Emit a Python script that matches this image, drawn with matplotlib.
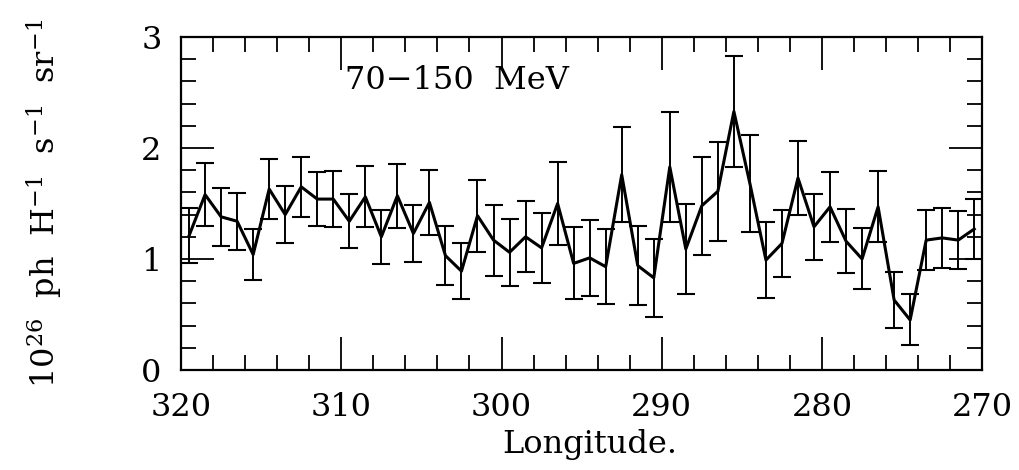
import numpy as np
import matplotlib
matplotlib.use("Agg")
import matplotlib.pyplot as plt

# longitude bins (deg), 1 deg wide
lon = np.arange(319.5, 270, -1.0)

# intensity, 70-150 MeV (10^26 ph H^-1 s^-1 sr^-1)
flux = [1.21, 1.58, 1.38, 1.34, 1.04, 1.63, 1.40, 1.65, 1.54, 1.54,
        1.34, 1.56, 1.20, 1.57, 1.23, 1.51, 1.03, 0.89, 1.39, 1.17,
        1.06, 1.20, 1.10, 1.50, 0.96, 1.01, 0.93, 1.76, 0.94, 0.83,
        1.83, 1.09, 1.48, 1.61, 2.33, 1.68, 0.99, 1.14, 1.73, 1.29,
        1.47, 1.16, 1.00, 1.47, 0.63, 0.45, 1.17, 1.19, 1.17, 1.27]
err = [0.25, 0.285, 0.26, 0.255, 0.23, 0.27, 0.255, 0.27, 0.245, 0.255,
       0.245, 0.275, 0.245, 0.29, 0.26, 0.295, 0.265, 0.25, 0.325, 0.32,
       0.30, 0.32, 0.315, 0.375, 0.325, 0.34, 0.34, 0.43, 0.355, 0.35,
       0.495, 0.405, 0.44, 0.445, 0.50, 0.44, 0.34, 0.30, 0.33, 0.295,
       0.315, 0.29, 0.275, 0.32, 0.25, 0.23, 0.27, 0.27, 0.26, 0.27]

plt.rcParams['font.family'] = 'DejaVu Serif'
plt.rcParams['mathtext.fontset'] = 'dejavuserif'

fig = plt.figure(figsize=(10.2, 4.7), dpi=100)
ax = fig.add_axes([0.1775, 0.213, 0.7855, 0.708])

ax.errorbar(lon, flux, yerr=err, color='black', lw=2.2, elinewidth=1.4,
            capsize=6.5, capthick=1.5)

ax.set_xlim(320, 270)
ax.set_ylim(0, 3)
ax.set_xticks([320, 310, 300, 290, 280, 270])
ax.set_xticks(np.arange(270, 321, 2), minor=True)
ax.set_yticks([0, 1, 2, 3])
ax.set_yticks(np.arange(0, 3.01, 0.2), minor=True)
ax.tick_params(which='both', direction='in', top=True, right=True,
               labelsize=23, width=1.3, color='black')
ax.tick_params(which='major', length=24)
ax.tick_params(which='minor', length=11)
ax.tick_params(axis='x', which='major', pad=16)
ax.tick_params(axis='y', which='major', pad=14)
for s in ax.spines.values():
    s.set_linewidth(1.6)

ax.text(0.205, 0.87, '70\u2212150  MeV', transform=ax.transAxes,
        fontsize=23, ha='left', va='center')
ax.set_xlabel('Longitude.', fontsize=23)
ax.xaxis.set_label_coords(0.51, -0.178)
ax.set_ylabel(r'$10^{26}$  ph  H$^{-1}$  s$^{-1}$  sr$^{-1}$', fontsize=23)
ax.yaxis.set_label_coords(-0.145, 0.5)

fig.savefig('out.png', dpi=100)
